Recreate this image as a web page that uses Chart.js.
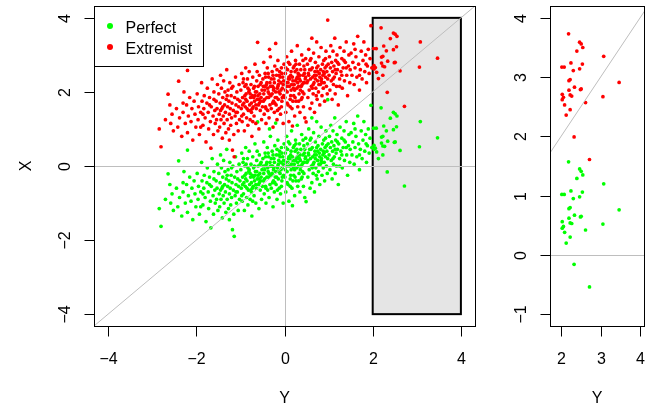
<!DOCTYPE html>
<html><head><meta charset="utf-8">
<script src="https://cdn.jsdelivr.net/npm/chart.js@4.4.0/dist/chart.umd.min.js"></script>
<style>
html,body{margin:0;padding:0;background:#fff;}
#wrap{position:relative;width:649px;height:404px;overflow:hidden;background:#fff;}
canvas{position:absolute;top:0;}
#c1{left:0;} #c2{left:490px;}
</style></head><body>
<div id="wrap"><canvas id="c1" width="490" height="404"></canvas><canvas id="c2" width="159" height="404"></canvas></div>
<script>
// Horizontal variable ("Y") shared by both groups
const Y = [
-2.84,-2.80,-2.64,-2.70,-2.55,-2.52,-2.60,-2.58,
-2.45,-2.42,-2.40,-2.38,-2.33,-2.30,-2.28,-2.25,-2.22,-2.20,-2.18,-2.15,-2.12,-2.10,-2.08,-2.05,-2.03,-2.01,-2.30,-2.20,
-1.98,-1.96,-1.95,-1.93,-1.90,-1.88,-1.87,-1.85,-1.83,-1.82,-1.80,-1.78,-1.76,-1.75,-1.73,-1.72,-1.70,-1.68,-1.67,-1.66,-1.64,-1.62,-1.61,-1.60,-1.58,-1.57,-1.55,-1.54,-1.52,-1.51,-1.90,-1.70,-1.60,-1.85,-1.53,
-1.49,-1.48,-1.47,-1.46,-1.45,-1.44,-1.43,-1.42,-1.41,-1.40,-1.39,-1.38,-1.37,-1.36,-1.35,-1.34,-1.33,-1.32,-1.31,-1.30,-1.29,-1.28,-1.27,-1.26,-1.25,-1.24,-1.23,-1.22,-1.21,-1.20,-1.19,-1.18,-1.17,-1.16,-1.15,-1.14,-1.13,-1.12,-1.11,-1.10,-1.09,-1.08,-1.07,-1.06,-1.05,-1.04,-1.03,-1.02,-1.01,-1.30,-1.20,-1.40,-1.10,-1.25,-1.45,
-0.99,-0.98,-0.97,-0.96,-0.95,-0.94,-0.93,-0.92,-0.91,-0.90,-0.89,-0.88,-0.87,-0.86,-0.85,-0.84,-0.83,-0.82,-0.81,-0.80,-0.79,-0.78,-0.77,-0.76,-0.75,-0.74,-0.73,-0.72,-0.71,-0.70,-0.69,-0.68,-0.67,-0.66,-0.65,-0.64,-0.63,-0.62,-0.61,-0.60,-0.59,-0.58,-0.57,-0.56,-0.55,-0.54,-0.53,-0.52,-0.51,-0.50,
-0.95,-0.90,-0.85,-0.80,-0.75,-0.70,-0.65,-0.60,-0.55,-0.88,-0.78,-0.68,-0.58,-0.93,-0.83,-0.73,-0.63,-0.53,-0.97,-0.87,-0.77,-0.67,-0.57,-0.62,-0.72,
-0.49,-0.48,-0.47,-0.46,-0.45,-0.44,-0.43,-0.42,-0.41,-0.40,-0.39,-0.38,-0.37,-0.36,-0.35,-0.34,-0.33,-0.32,-0.31,-0.30,-0.29,-0.28,-0.27,-0.26,-0.25,-0.24,-0.23,-0.22,-0.21,-0.20,-0.19,-0.18,-0.17,-0.16,-0.15,-0.14,-0.13,-0.12,-0.11,-0.10,-0.09,-0.08,-0.07,-0.06,-0.05,-0.04,-0.03,-0.02,-0.01,
-0.45,-0.40,-0.35,-0.30,-0.25,-0.20,-0.15,-0.10,-0.05,-0.48,-0.38,-0.28,-0.18,-0.08,-0.43,-0.33,-0.23,-0.13,-0.03,-0.47,-0.37,-0.27,-0.17,-0.07,-0.42,-0.32,-0.22,-0.12,-0.02,-0.36,-0.26,-0.16,-0.06,-0.44,-0.14,-0.24,
0.01,0.02,0.03,0.04,0.05,0.06,0.07,0.08,0.09,0.10,0.11,0.12,0.13,0.14,0.15,0.16,0.17,0.18,0.19,0.20,0.21,0.22,0.23,0.24,0.25,0.26,0.27,0.28,0.29,0.30,0.31,0.32,0.33,0.34,0.35,0.36,0.37,0.38,0.39,0.40,0.41,0.42,0.43,0.44,0.45,0.46,0.47,0.48,0.49,
0.05,0.10,0.15,0.20,0.25,0.30,0.35,0.40,0.45,0.08,0.18,0.28,0.38,0.48,0.03,0.13,0.23,0.33,0.43,0.06,0.16,0.26,0.36,0.46,0.12,0.22,0.32,0.42,0.02,0.14,0.24,0.34,0.44,0.09,0.19,0.29,
0.51,0.52,0.53,0.54,0.55,0.56,0.57,0.58,0.59,0.60,0.61,0.62,0.63,0.64,0.65,0.66,0.67,0.68,0.69,0.70,0.71,0.72,0.73,0.74,0.75,0.76,0.77,0.78,0.79,0.80,0.81,0.82,0.83,0.84,0.85,0.86,0.87,0.88,0.89,0.90,0.91,0.92,0.93,0.94,0.95,0.96,0.97,0.98,0.99,
0.55,0.60,0.65,0.70,0.75,0.80,0.85,0.90,0.95,0.53,0.63,0.73,0.83,0.93,0.58,0.68,0.78,0.88,0.98,0.62,0.72,
1.01,1.02,1.03,1.04,1.05,1.06,1.07,1.08,1.09,1.10,1.11,1.12,1.13,1.14,1.15,1.16,1.17,1.18,1.19,1.20,1.22,1.23,1.25,1.26,1.28,1.30,1.31,1.33,1.35,1.36,1.38,1.40,1.41,1.43,1.45,1.46,1.48,1.49,1.10,1.20,1.30,1.40,1.15,1.25,1.35,
1.51,1.53,1.55,1.57,1.58,1.60,1.62,1.64,1.66,1.68,1.70,1.72,1.74,1.76,1.78,1.80,1.82,1.84,1.86,1.88,1.90,1.92,1.94,1.96,1.98,1.60,1.70,1.85,
2.19,2.47,2.51,2.55,2.40,3.08,2.25,2.54,2.02,2.08,2.47,2.31,2.23,2.20,3.47,2.34,2.51,2.49,2.20,2.03,2.23,2.27,3.06,2.06,2.03,2.09,2.62,2.23,2.13,2.33,2.72
];
// Vertical variable ("X") for the Perfect group
const perfectX = [
-1.15,-1.63,-0.21,-0.90,-0.75,-1.20,-0.50,-1.00,
-0.60,-1.10,0.14,-0.85,-1.35,-0.70,-0.15,-1.00,-0.50,-1.25,-0.80,-0.30,-0.95,-0.60,-1.45,-0.40,-0.75,-1.10,-0.45,0.43,
-0.20,-0.90,-0.55,-1.30,-0.70,0.10,-0.40,-1.05,-0.60,-0.25,-0.85,-1.50,-0.45,-0.05,-0.70,-1.15,-0.30,-0.95,-1.67,-0.55,0.20,-0.80,-1.30,-0.15,-0.65,-1.00,-0.40,-0.90,0.05,-1.20,-1.10,-0.50,-0.35,-0.75,-0.60,
-0.20,-0.75,-1.10,-0.45,0.30,-0.90,-0.05,-0.60,-1.40,-0.30,-0.80,0.15,-1.00,-0.50,-0.15,-0.70,-1.25,-0.35,0.45,-0.90,-0.55,-0.10,-1.15,-0.40,-0.75,0.10,-0.60,-1.05,-0.25,-0.85,-0.45,-1.72,0.00,-0.65,-1.30,-1.90,-0.30,-0.80,0.25,-0.50,-1.00,-0.15,-0.70,-0.35,-1.20,-0.55,0.05,-0.90,-0.40,-0.25,-0.05,-0.55,-0.70,-1.45,-0.65,
-0.10,-0.60,0.35,-0.95,-0.30,0.10,-0.75,-0.45,-1.20,0.00,-0.55,0.50,-0.20,-0.85,-0.40,0.20,-1.05,-0.65,-0.15,0.40,-0.50,-0.90,-0.30,0.05,-0.70,-1.35,-0.25,0.25,-0.55,-0.05,-0.80,-0.40,0.60,-0.15,-1.00,-0.60,0.15,-0.35,1.19,0.00,-0.50,-1.15,0.30,-0.20,-0.65,-0.40,0.10,-0.90,-0.10,-0.55,
-0.50,-0.25,-0.60,-0.10,-0.45,-0.30,-0.50,-0.25,0.05,-0.35,-0.20,0.00,-0.35,0.20,-0.05,-0.60,-0.15,-0.30,-0.80,0.05,-0.65,-0.25,-0.45,0.40,-0.95,
0.20,-0.40,0.65,-0.75,-0.10,0.35,-0.55,-1.00,0.05,-0.30,0.50,-0.65,-0.15,0.25,-0.85,1.00,0.10,0.80,-0.25,-0.60,0.00,0.40,-0.45,-1.10,-0.10,0.20,-0.70,0.55,-0.30,1.16,-0.50,0.30,-0.90,-0.05,0.70,-0.35,0.15,-0.60,0.40,-0.20,-0.75,0.10,0.50,-0.40,-0.05,0.25,-1.00,-0.25,0.60,
-0.35,0.10,-0.20,0.20,-0.40,-0.15,0.00,0.25,-0.30,0.00,-0.05,-0.20,-0.30,-0.10,0.25,-0.50,0.10,-0.15,0.05,-0.20,0.35,0.00,0.45,-0.55,-0.60,0.00,-0.45,0.30,0.15,-0.30,0.30,-0.65,0.35,0.00,0.05,-0.05,
-0.30,0.35,-0.70,0.10,0.80,-0.15,0.45,-0.50,0.20,-0.95,0.00,0.60,-0.35,0.30,-0.10,0.95,-0.60,-1.07,0.15,0.50,-0.25,0.05,-0.80,0.40,0.70,-0.40,0.20,-0.05,1.10,-0.55,0.35,0.00,-0.20,0.60,-0.70,0.15,0.45,-0.35,0.85,0.05,-0.15,0.30,-0.55,0.55,0.10,-0.85,0.20,0.75,-0.96,
0.00,0.25,0.40,-0.05,0.15,0.10,0.30,-0.30,0.35,0.10,0.25,0.45,0.00,0.25,0.50,-0.55,-0.10,0.30,0.10,-0.45,0.05,0.60,-0.10,0.45,0.20,0.55,-0.40,0.70,-0.10,-0.25,-0.30,0.20,-0.20,0.65,-0.40,0.25,
0.10,0.60,-0.30,0.35,1.00,-0.10,0.45,-0.60,0.20,0.75,0.00,-0.45,0.50,0.25,-0.20,0.90,0.10,-0.70,0.40,0.65,-0.05,0.30,1.20,-0.35,0.15,0.55,-0.15,0.80,0.35,-0.50,0.05,0.45,1.05,0.20,-0.25,0.60,0.30,-0.05,0.70,0.10,-0.40,0.50,0.25,0.95,0.00,0.40,-0.20,1.79,0.60,
0.30,0.45,0.05,0.20,0.40,0.25,0.10,0.35,0.55,0.15,-0.05,0.50,0.15,0.75,0.70,0.30,0.05,0.40,0.20,1.30,-0.25,
0.30,0.80,-0.10,0.50,1.10,0.15,0.65,-0.35,0.40,0.95,0.05,0.55,0.25,1.30,-0.20,0.70,0.35,0.00,0.85,0.45,-0.50,0.60,0.20,1.05,0.40,0.75,-0.05,0.50,0.95,0.15,0.65,1.20,0.30,-0.25,0.55,0.85,0.10,0.45,0.20,0.65,0.30,0.50,0.45,0.00,0.70,
0.90,0.30,0.65,1.15,0.05,0.50,0.80,0.25,1.35,0.60,-0.10,0.45,0.95,0.20,0.70,1.20,0.40,0.85,0.10,0.55,1.00,0.35,0.75,1.64,0.50,1.00,0.30,0.60,
1.57,1.45,1.41,1.35,1.29,1.20,1.08,1.06,1.02,1.02,0.98,0.95,0.80,0.78,0.76,0.67,0.65,0.64,0.62,0.56,0.54,0.53,0.52,0.48,0.45,0.38,0.42,0.30,0.20,-0.16,-0.54
];
// Vertical variable ("X") for the Extremist group
const extremistX = [
1.00,0.52,1.94,1.25,1.40,0.95,1.65,1.15,
1.55,1.05,2.29,1.30,0.80,1.45,2.00,1.15,1.65,0.90,1.35,1.85,1.20,1.55,0.70,1.75,1.40,1.05,1.70,2.58,
1.95,1.25,1.60,0.85,1.45,2.25,1.75,1.10,1.55,1.90,1.30,0.65,1.70,2.10,1.45,1.00,1.85,1.20,0.48,1.60,2.35,1.35,0.85,2.00,1.50,1.15,1.75,1.25,2.20,0.95,1.05,1.65,1.80,1.40,1.55,
1.95,1.40,1.05,1.70,2.45,1.25,2.10,1.55,0.75,1.85,1.35,2.30,1.15,1.65,2.00,1.45,0.90,1.80,2.60,1.25,1.60,2.05,1.00,1.75,1.40,2.25,1.55,1.10,1.90,1.30,1.70,0.43,2.15,1.50,0.85,0.25,1.85,1.35,2.40,1.65,1.15,2.00,1.45,1.80,0.95,1.60,2.20,1.25,1.75,1.90,2.10,1.60,1.45,0.70,1.50,
2.05,1.55,2.50,1.20,1.85,2.25,1.40,1.70,0.95,2.15,1.60,2.65,1.95,1.30,1.75,2.35,1.10,1.50,2.00,2.55,1.65,1.25,1.85,2.20,1.45,0.80,1.90,2.40,1.60,2.10,1.35,1.75,2.75,2.00,1.15,1.55,2.30,1.80,3.34,2.15,1.65,1.00,2.45,1.95,1.50,1.75,2.25,1.25,2.05,1.60,
1.65,1.90,1.55,2.05,1.70,1.85,1.65,1.90,2.20,1.80,1.95,2.15,1.80,2.35,2.10,1.55,2.00,1.85,1.35,2.20,1.50,1.90,1.70,2.55,1.20,
2.35,1.75,2.80,1.40,2.05,2.50,1.60,1.15,2.20,1.85,2.65,1.50,2.00,2.40,1.30,3.15,2.25,2.95,1.90,1.55,2.15,2.55,1.70,1.05,2.05,2.35,1.45,2.70,1.85,3.31,1.65,2.45,1.25,2.10,2.85,1.80,2.30,1.55,2.55,1.95,1.40,2.25,2.65,1.75,2.10,2.40,1.15,1.90,2.75,
1.80,2.25,1.95,2.35,1.75,2.00,2.15,2.40,1.85,2.15,2.10,1.95,1.85,2.05,2.40,1.65,2.25,2.00,2.20,1.95,2.50,2.15,2.60,1.60,1.55,2.15,1.70,2.45,2.30,1.85,2.45,1.50,2.50,2.15,2.20,2.10,
1.85,2.50,1.45,2.25,2.95,2.00,2.60,1.65,2.35,1.20,2.15,2.75,1.80,2.45,2.05,3.10,1.55,1.08,2.30,2.65,1.90,2.20,1.35,2.55,2.85,1.75,2.35,2.10,3.25,1.60,2.50,2.15,1.95,2.75,1.45,2.30,2.60,1.80,3.00,2.20,2.00,2.45,1.60,2.70,2.25,1.30,2.35,2.90,1.19,
2.15,2.40,2.55,2.10,2.30,2.25,2.45,1.85,2.50,2.25,2.40,2.60,2.15,2.40,2.65,1.60,2.05,2.45,2.25,1.70,2.20,2.75,2.05,2.60,2.35,2.70,1.75,2.85,2.05,1.90,1.85,2.35,1.95,2.80,1.75,2.40,
2.25,2.75,1.85,2.50,3.15,2.05,2.60,1.55,2.35,2.90,2.15,1.70,2.65,2.40,1.95,3.05,2.25,1.45,2.55,2.80,2.10,2.45,3.35,1.80,2.30,2.70,2.00,2.95,2.50,1.65,2.20,2.60,3.20,2.35,1.90,2.75,2.45,2.10,2.85,2.25,1.75,2.65,2.40,3.10,2.15,2.55,1.95,3.94,2.75,
2.45,2.60,2.20,2.35,2.55,2.40,2.25,2.50,2.70,2.30,2.10,2.65,2.30,2.90,2.85,2.45,2.20,2.55,2.35,3.45,1.90,
2.45,2.95,2.05,2.65,3.25,2.30,2.80,1.80,2.55,3.10,2.20,2.70,2.40,3.45,1.95,2.85,2.50,2.15,3.00,2.60,1.65,2.75,2.35,3.20,2.55,2.90,2.10,2.65,3.10,2.30,2.80,3.35,2.45,1.90,2.70,3.00,2.25,2.60,2.35,2.80,2.45,2.65,2.60,2.15,2.85,
3.05,2.45,2.80,3.30,2.20,2.65,2.95,2.40,3.50,2.75,2.05,2.60,3.10,2.35,2.85,3.35,2.55,3.00,2.25,2.70,3.15,2.50,2.90,3.79,2.65,3.15,2.45,2.75,
3.73,3.59,3.56,3.50,3.44,3.35,3.24,3.22,3.17,3.17,3.14,3.11,2.96,2.94,2.91,2.83,2.80,2.79,2.78,2.71,2.70,2.68,2.67,2.66,2.62,2.53,2.57,2.45,2.36,1.99,1.61
];
const seriesNames = ['Perfect', 'Extremist'];
const seriesColors = ['#00FF00', '#FF0000'];
const mainTicks = [-4, -2, 0, 2, 4];
const zoomXTicks = [2, 3, 4];
const zoomYTicks = [-1, 0, 1, 2, 3, 4];
const regionY = [2, 4];     // highlighted range of Y
const regionX = [-4, 4];    // vertical extent of highlighted box
const xAxisTitle = 'Y';
const yAxisTitle = 'X';

const FONT = '16px "Liberation Sans", Arial, Helvetica, sans-serif';
function lab(v){ return v < 0 ? '\u2212' + Math.abs(v) : String(v); }
function pts(xs, ys, keep){
  const out = [];
  for (let i = 0; i < xs.length; i++) {
    if (!keep || keep(xs[i])) out.push({x: xs[i], y: ys[i]});
  }
  return out;
}

function framePlugin(cfg){
  return {
    id: 'rframe',
    beforeDatasetsDraw(chart){
      if (!cfg.rect) return;
      const {ctx, scales:{x, y}} = chart;
      const x0 = x.getPixelForValue(regionY[0]), x1 = x.getPixelForValue(regionY[1]);
      const y0 = y.getPixelForValue(regionX[1]), y1 = y.getPixelForValue(regionX[0]);
      ctx.save();
      ctx.fillStyle = '#E5E5E5';
      ctx.fillRect(x0, y0, x1 - x0, y1 - y0);
      ctx.strokeStyle = '#000'; ctx.lineWidth = 2;
      ctx.strokeRect(x0, y0, x1 - x0, y1 - y0);
      ctx.restore();
    },
    afterDatasetsDraw(chart){
      const {ctx, chartArea:a, scales:{x, y}} = chart;
      ctx.save();
      ctx.beginPath(); ctx.rect(a.left, a.top, a.right - a.left, a.bottom - a.top); ctx.clip();
      ctx.strokeStyle = '#BEBEBE'; ctx.lineWidth = 1;
      ctx.beginPath();
      ctx.moveTo(x.getPixelForValue(-10), y.getPixelForValue(-10));
      ctx.lineTo(x.getPixelForValue(10), y.getPixelForValue(10));
      ctx.stroke();
      if (0 >= y.min && 0 <= y.max) {
        const py = Math.round(y.getPixelForValue(0)) + 0.5;
        ctx.beginPath(); ctx.moveTo(a.left, py); ctx.lineTo(a.right, py); ctx.stroke();
      }
      if (0 >= x.min && 0 <= x.max) {
        const px = Math.round(x.getPixelForValue(0)) + 0.5;
        ctx.beginPath(); ctx.moveTo(px, a.top); ctx.lineTo(px, a.bottom); ctx.stroke();
      }
      ctx.restore();
    },
    afterDraw(chart){
      const {ctx, chartArea:a, scales:{x, y}} = chart;
      const L = Math.round(a.left), T = Math.round(a.top), R = Math.round(a.right), B = Math.round(a.bottom);
      ctx.save();
      ctx.strokeStyle = '#000'; ctx.lineWidth = 1;
      ctx.strokeRect(L + 0.5, T + 0.5, R - L, B - T);
      ctx.fillStyle = '#000'; ctx.font = FONT;
      ctx.textAlign = 'center'; ctx.textBaseline = 'alphabetic';
      cfg.xTicks.forEach(v => {
        const px = Math.round(x.getPixelForValue(v)) + 0.5;
        ctx.beginPath(); ctx.moveTo(px, B + 0.5); ctx.lineTo(px, B + 10.5); ctx.stroke();
        ctx.fillText(lab(v), px, B + 37.5);
      });
      cfg.yTicks.forEach(v => {
        const py = Math.round(y.getPixelForValue(v)) + 0.5;
        ctx.beginPath(); ctx.moveTo(L + 0.5, py); ctx.lineTo(L - 9.5, py); ctx.stroke();
        ctx.save(); ctx.translate(L - 24.5, py); ctx.rotate(-Math.PI / 2);
        ctx.fillText(lab(v), 0, 0); ctx.restore();
      });
      ctx.fillText(cfg.xTitle, (L + R) / 2, 403);
      if (cfg.yTitle) {
        ctx.save(); ctx.translate(30.5, (T + B) / 2); ctx.rotate(-Math.PI / 2);
        ctx.fillText(cfg.yTitle, 0, 0); ctx.restore();
      }
      if (cfg.legend) {
        ctx.fillStyle = '#fff';
        ctx.fillRect(L + 0.5, T + 0.5, 109, 60);
        ctx.strokeRect(L + 0.5, T + 0.5, 109, 60);
        const rows = [26, 47];
        seriesNames.forEach((n, i) => {
          ctx.fillStyle = seriesColors[i];
          ctx.beginPath(); ctx.arc(L + 16, rows[i], 3, 0, Math.PI * 2); ctx.fill();
          ctx.fillStyle = '#000'; ctx.textAlign = 'left';
          ctx.fillText(n, L + 31.5, rows[i] + 6.5);
        });
      }
      ctx.restore();
    }
  };
}

function makeChart(canvas, cfg){
  const ds = seriesNames.map((n, i) => ({
    label: n,
    data: pts(Y, i === 0 ? perfectX : extremistX, cfg.keep),
    backgroundColor: seriesColors[i],
    borderColor: seriesColors[i],
    borderWidth: 0,
    pointRadius: 1.85,
    pointHoverRadius: 1.85,
    order: i === 0 ? 1 : 0
  }));
  return new Chart(canvas, {
    type: 'scatter',
    data: { datasets: ds },
    options: {
      responsive: false, animation: false, devicePixelRatio: 1, events: [],
      layout: { padding: cfg.padding },
      scales: {
        x: { type: 'linear', min: cfg.xr[0], max: cfg.xr[1], display: false },
        y: { type: 'linear', min: cfg.yr[0], max: cfg.yr[1], display: false }
      },
      plugins: { legend: { display: false }, tooltip: { enabled: false } }
    },
    plugins: [framePlugin(cfg)]
  });
}

makeChart(document.getElementById('c1'), {
  padding: { left: 94, top: 6, right: 15, bottom: 78 },
  xr: [-4.32, 4.32], yr: [-4.32, 4.32],
  xTicks: mainTicks, yTicks: mainTicks,
  xTitle: xAxisTitle, yTitle: yAxisTitle,
  rect: true, legend: true
});
makeChart(document.getElementById('c2'), {
  padding: { left: 60, top: 6, right: 5, bottom: 78 },
  xr: [1.72, 4.10], yr: [-1.2, 4.2],
  xTicks: zoomXTicks, yTicks: zoomYTicks,
  xTitle: xAxisTitle, yTitle: null,
  keep: v => v >= regionY[0] && v <= regionY[1]
});
</script>
</body></html>
